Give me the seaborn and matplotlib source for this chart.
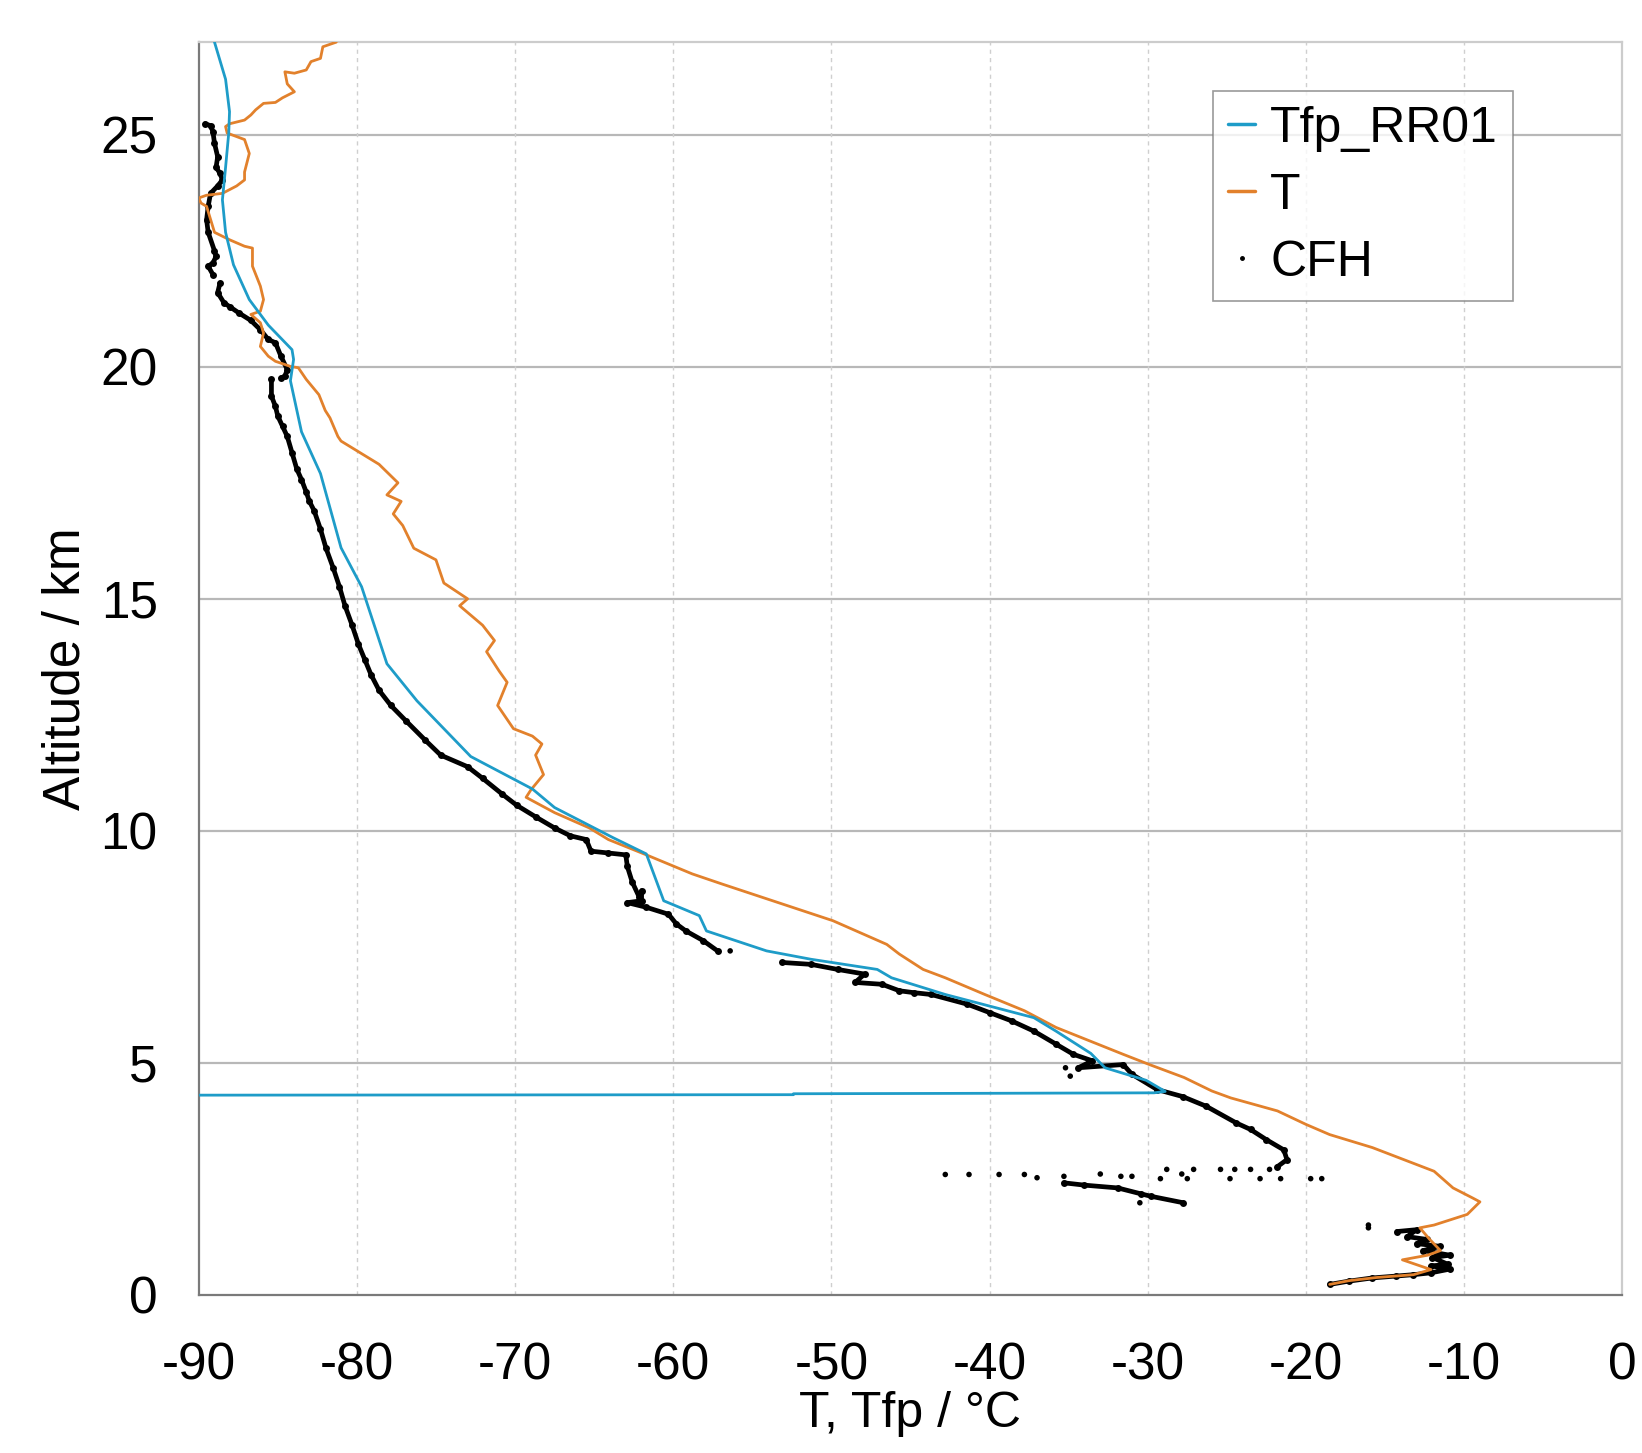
import numpy as np
import pandas as pd
import matplotlib
matplotlib.use("Agg")
import matplotlib.pyplot as plt
import seaborn as sns
from matplotlib.lines import Line2D

# ---------------- data ----------------
# Tfp_RR01 (frost point from radiosonde), degC vs km
tfp_T = [-89.0, -88.3, -88.05, -88.1, -88.3, -88.5, -88.3, -87.8, -86.8, -85.6,
         -84.1, -84.0, -84.2, -83.5, -82.3, -81.0, -79.7, -78.1, -76.2, -74.5,
         -72.8, -68.9, -67.5, -63.8, -61.7, -60.6, -58.35, -57.9, -54.1, -51.3,
         -47.1, -46.2, -42.8, -37.2, -35.8, -33.6, -32.7, -30.1, -28.9,
         -29.6, -40.0, -52.4, -52.4, -90.0]
tfp_z = [27.0, 26.2, 25.5, 25.04, 24.3, 23.6, 22.9, 22.2, 21.45, 20.9,
         20.37, 20.16, 19.7, 18.6, 17.7, 16.1, 15.26, 13.6, 12.8, 12.2,
         11.6, 10.9, 10.5, 9.85, 9.5, 8.49, 8.17, 7.84, 7.41, 7.23,
         7.01, 6.83, 6.47, 5.97, 5.68, 5.2, 4.89, 4.62, 4.38,
         4.35, 4.34, 4.33, 4.31, 4.30]

# T (radiosonde temperature)
t_T = [-81.3, -82.15, -82.3, -82.9, -83.2, -83.95, -84.55, -84.4, -83.95, -84.7,
       -85.15, -85.9, -86.4, -86.7, -87.1, -88.05, -88.3, -88.2, -87.1, -86.8,
       -87.1, -87.1, -87.6, -88.5, -89.5, -90.0, -89.85, -89.5, -89.0, -88.05,
       -87.1, -86.6, -86.6, -86.1, -85.9, -86.1, -86.7, -86.1, -85.9, -86.1,
       -85.6, -85.15, -84.2, -83.7, -83.2, -82.4, -82.0, -81.7, -81.2, -81.0,
       -79.8, -78.6, -77.4, -78.1, -77.2, -77.7, -77.1, -76.4, -75.0, -74.5,
       -73.0, -73.5, -72.05, -71.3, -71.8, -71.0, -70.5, -71.1, -70.1, -68.9,
       -68.3, -68.7, -68.2, -69.0, -69.3, -67.5, -65.3, -64.1, -61.7, -58.8,
       -56.9, -49.9, -46.5, -45.7, -44.2, -42.8, -40.3, -37.8, -35.8, -31.55,
       -29.9, -27.7, -25.95, -24.75, -21.8, -20.0, -18.5, -15.8, -11.9, -10.7,
       -9.5, -9.0, -9.8, -11.9, -12.8, -12.2, -11.5, -12.3, -13.9, -12.1,
       -13.2, -15.5, -17.3, -18.5]
t_z = [27.0, 26.9, 26.65, 26.58, 26.4, 26.33, 26.36, 26.1, 25.93, 25.8,
       25.7, 25.68, 25.54, 25.43, 25.32, 25.24, 25.18, 25.04, 24.9, 24.6,
       24.2, 24.03, 23.9, 23.74, 23.7, 23.64, 23.53, 23.46, 22.9, 22.74,
       22.6, 22.56, 22.17, 21.74, 21.45, 21.2, 21.13, 20.95, 20.73, 20.44,
       20.23, 20.12, 20.01, 19.98, 19.73, 19.4, 19.06, 18.9, 18.5, 18.4,
       18.15, 17.9, 17.5, 17.24, 17.1, 16.83, 16.58, 16.09, 15.84, 15.34,
       15.0, 14.85, 14.43, 14.1, 13.86, 13.44, 13.2, 12.7, 12.2, 12.04,
       11.87, 11.63, 11.21, 10.88, 10.72, 10.39, 10.06, 9.81, 9.48, 9.07,
       8.85, 8.06, 7.55, 7.34, 7.01, 6.83, 6.47, 6.12, 5.76, 5.18,
       4.96, 4.68, 4.39, 4.24, 3.96, 3.67, 3.45, 3.17, 2.66, 2.30,
       2.09, 2.0, 1.73, 1.5, 1.44, 1.2, 0.95, 0.85, 0.75, 0.54,
       0.43, 0.37, 0.30, 0.22]

# CFH (cryogenic frost point hygrometer) - main trace, split into pieces
cfh_T = [
    # piece 0
    -89.6, -89.25, -89.1, -89.0, -88.8, -88.9, -88.65, -88.5, -88.8, -89.25,
    -89.4, -89.5, -89.4, -89.0, -88.9, -89.1, -89.4, -89.1,
    # piece 1
    -88.65, -88.8, -88.4, -88.05, -87.45, -86.7, -86.1, -85.6, -85.15, -84.8,
    -84.4, -84.55, -84.8,
    # piece 2
    -85.4, -85.4, -85.15, -85.0, -84.7, -84.4, -84.1, -83.8, -83.5, -83.2,
    -83.0, -82.7, -82.3, -81.95, -81.5, -81.1, -80.75, -80.3, -79.9, -79.5,
    -79.1, -78.6, -77.85, -76.9, -75.7, -74.7, -73.0, -72.05, -70.85, -69.9,
    -68.7, -67.5, -66.5, -65.5, -65.2, -64.1, -63.0, -62.9, -62.6, -62.15,
    -62.0, -62.0, -62.9, -61.7, -60.3, -59.8, -59.2, -58.1, -57.2,
    # piece 3
    -53.1, -51.3, -49.6, -47.9, -48.5, -46.8, -45.7, -44.8, -43.7, -41.4,
    -40.0, -38.6, -37.2, -35.8, -34.7, -33.5, -34.4, -31.55, -31.0, -29.4,
    -27.8, -26.3, -24.4, -23.5, -22.5, -21.4, -21.2, -21.8,
    # piece 4 (low branch)
    -35.3, -34.0, -31.9, -30.4, -29.8, -27.75,
    # piece 5 (near ground)
    -14.25, -13.0, -13.6, -12.35, -13.0, -11.5, -12.6, -10.9, -12.0, -11.0,
    -12.1, -10.9, -12.1, -13.2, -14.3, -15.8, -17.3, -18.5,
]
cfh_z = [
    25.24, 25.2, 25.07, 24.82, 24.53, 24.3, 24.17, 24.03, 23.9, 23.74,
    23.46, 23.17, 22.9, 22.5, 22.38, 22.24, 22.17, 21.99,
    21.81, 21.6, 21.38, 21.3, 21.16, 21.0, 20.8, 20.59, 20.52, 20.23,
    19.94, 19.8, 19.76,
    19.73, 19.37, 19.15, 18.94, 18.72, 18.5, 18.15, 17.8, 17.57, 17.3,
    17.1, 16.9, 16.5, 16.09, 15.67, 15.26, 14.85, 14.43, 14.02, 13.69,
    13.36, 13.03, 12.7, 12.37, 11.96, 11.63, 11.38, 11.13, 10.8, 10.55,
    10.3, 10.06, 9.89, 9.81, 9.56, 9.52, 9.48, 9.23, 8.9, 8.57,
    8.71, 8.49, 8.45, 8.35, 8.2, 7.99, 7.84, 7.63, 7.41,
    7.16, 7.12, 7.01, 6.91, 6.73, 6.69, 6.55, 6.51, 6.47, 6.26,
    6.08, 5.9, 5.68, 5.4, 5.18, 5.04, 4.89, 4.96, 4.75, 4.42,
    4.27, 4.06, 3.70, 3.56, 3.34, 3.12, 2.91, 2.76,
    2.41, 2.36, 2.30, 2.17, 2.12, 1.98,
    1.36, 1.40, 1.25, 1.19, 1.10, 1.04, 0.95, 0.85, 0.80, 0.65,
    0.62, 0.55, 0.47, 0.43, 0.40, 0.36, 0.29, 0.22,
]
cfh_piece = [0] * 18 + [1] * 13 + [2] * 49 + [3] * 28 + [4] * 6 + [5] * 18

# CFH isolated dots
cfh_dot_T = [-56.4, -35.2, -34.9, -42.8, -41.3, -39.4, -37.8, -37.0, -35.3, -33.0,
             -31.7, -31.0, -29.2, -28.8, -27.85, -27.5, -27.1, -25.4, -24.8, -24.5,
             -23.5, -22.9, -22.3, -21.6, -19.7, -19.0, -30.5, -16.05, -16.05]
cfh_dot_z = [7.41, 4.89, 4.71, 2.59, 2.59, 2.59, 2.59, 2.52, 2.55, 2.6,
             2.55, 2.55, 2.5, 2.7, 2.6, 2.5, 2.7, 2.7, 2.5, 2.7,
             2.7, 2.5, 2.7, 2.5, 2.5, 2.5, 1.98, 1.44, 1.50]

x_ticks = [-90, -80, -70, -60, -50, -40, -30, -20, -10, 0]
y_ticks = [0, 5, 10, 15, 20, 25]

# ---------------- style ----------------
sns.set_theme(style="white")
plt.rcParams['font.family'] = ['Liberation Sans', 'DejaVu Sans']

BLUE = "#1E9CC8"
ORANGE = "#E2812C"

fig = plt.figure(figsize=(16.42, 14.53), dpi=100)
ax = fig.add_axes([0.121, 0.109, 0.867, 0.862])

df_cfh = pd.DataFrame({"T": cfh_T, "z": cfh_z, "piece": cfh_piece})
df_t = pd.DataFrame({"T": t_T, "z": t_z})
df_tfp = pd.DataFrame({"T": tfp_T, "z": tfp_z})
df_dots = pd.DataFrame({"T": cfh_dot_T, "z": cfh_dot_z})

# grid
for yv in y_ticks[1:]:
    ax.axhline(yv, color="#b8b8b8", lw=1.6, zorder=0)
for xv in x_ticks[1:-1]:
    ax.axvline(xv, color="#cfcfcf", lw=1.0, ls=(0, (3, 3)), zorder=0)

sns.lineplot(data=df_cfh, x="T", y="z", units="piece", estimator=None, sort=False,
             color="black", lw=3.4, marker="o", markersize=5, markeredgewidth=0,
             ax=ax, legend=False, zorder=2)
sns.scatterplot(data=df_dots, x="T", y="z", color="black", s=16, edgecolor="none",
                ax=ax, legend=False, zorder=2)
sns.lineplot(data=df_t, x="T", y="z", sort=False, estimator=None, color=ORANGE,
             lw=2.0, ax=ax, legend=False, zorder=3)
sns.lineplot(data=df_tfp, x="T", y="z", sort=False, estimator=None, color=BLUE,
             lw=2.0, ax=ax, legend=False, zorder=4)

ax.set_xlim(-90, 0)
ax.set_ylim(0, 27)
ax.set_xticks(x_ticks)
ax.set_yticks(y_ticks)
ax.set_xticklabels([str(v) for v in x_ticks])
ax.set_yticklabels([str(v) for v in y_ticks])
ax.tick_params(axis="both", labelsize=37, colors="#808080", labelcolor="black",
               length=12, width=1.3, direction="out")
ax.tick_params(axis="x", pad=22)
ax.tick_params(axis="y", pad=17.5)

for side in ["left", "bottom"]:
    ax.spines[side].set_color("#7a7a7a")
    ax.spines[side].set_linewidth(1.6)
for side in ["top", "right"]:
    ax.spines[side].set_color("#cccccc")
    ax.spines[side].set_linewidth(1.6)

ax.set_xlabel("T, Tfp / °C", fontsize=36, labelpad=0, color="black")
ax.set_ylabel("Altitude / km", fontsize=37, labelpad=7, color="black")

handles = [
    Line2D([], [], color=BLUE, lw=2.5),
    Line2D([], [], color=ORANGE, lw=2.5),
    Line2D([], [], color="black", marker=".", ls="none", markersize=5),
]
leg = ax.legend(handles, ["Tfp_RR01", "T", "CFH"], loc="upper right",
                bbox_to_anchor=(0.9234, 0.961), borderaxespad=0, fontsize=36,
                frameon=True, fancybox=False, handlelength=0.55, handletextpad=0.3,
                labelspacing=0.42, borderpad=0.3, labelcolor="black")
leg.get_frame().set_edgecolor("#808080")
leg.get_frame().set_linewidth(1.2)

fig.savefig("out.png", dpi=100)
